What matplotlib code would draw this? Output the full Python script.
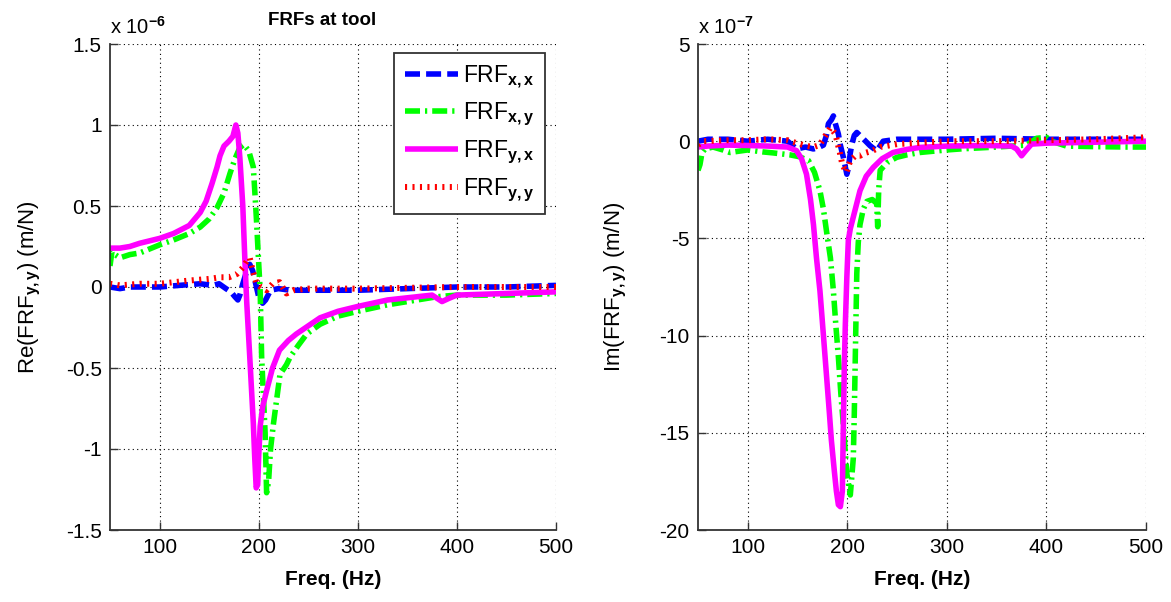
import matplotlib
matplotlib.use("Agg")
import matplotlib.pyplot as plt

plt.rcParams['font.family'] = ['Liberation Sans', 'DejaVu Sans']
plt.rcParams['mathtext.fontset'] = 'custom'
plt.rcParams['mathtext.rm'] = 'Liberation Sans'
plt.rcParams['mathtext.it'] = 'Liberation Sans:italic'
plt.rcParams['mathtext.bf'] = 'Liberation Sans:bold'

# ---------------- data: real part (x 1e-6 m/N) ----------------
re_xx_f = [50, 60, 70, 80, 100, 120, 141, 154, 160, 167, 172, 176, 179, 181, 184, 188, 191, 194, 197, 200, 204, 207, 212, 220, 232, 255, 280, 300, 350, 400, 450, 500]
re_xx_v = [0.0, -0.01, 0.0, 0.0, 0.0, 0.01, 0.02, 0.01, 0.02, -0.01, -0.03, -0.06, -0.08, -0.05, 0.02, 0.10, 0.14, 0.10, 0.02, -0.06, -0.10, -0.08, -0.02, -0.01, -0.02, -0.02, -0.02, -0.02, -0.01, 0.0, 0.0, 0.01]

re_xy_f = [50, 52, 55, 60, 70, 80, 100, 114, 130, 141, 150, 158, 165, 171, 176, 181, 185, 190, 194.6, 196.5, 198, 200, 201.5, 203, 205, 206.5, 208, 210, 212, 215, 221.5, 228, 232, 240, 248.5, 262, 280, 300, 330, 360, 380, 400, 450, 500]
re_xy_v = [0.13, 0.22, 0.20, 0.18, 0.20, 0.21, 0.26, 0.29, 0.33, 0.37, 0.42, 0.49, 0.58, 0.70, 0.79, 0.86, 0.88, 0.84, 0.74, 0.55, 0.39, 0.15, -0.02, -0.43, -0.70, -0.90, -1.27, -1.20, -1.00, -0.84, -0.54, -0.48, -0.43, -0.36, -0.29, -0.23, -0.18, -0.15, -0.11, -0.08, -0.06, -0.05, -0.05, -0.04]

re_yx_f = [50, 60, 70, 80, 100, 114, 130, 141, 147, 153, 158, 161, 165, 170, 174, 177, 179, 181, 184, 186, 188, 191, 194.6, 196, 197.5, 199, 200, 201.5, 204, 208, 214, 221, 230, 238, 250, 262, 280, 300, 330, 360, 375, 385, 392, 400, 450, 500]
re_yx_v = [0.24, 0.24, 0.25, 0.27, 0.30, 0.33, 0.38, 0.46, 0.53, 0.64, 0.74, 0.81, 0.87, 0.90, 0.93, 1.00, 0.95, 0.80, 0.50, 0.18, -0.10, -0.43, -0.84, -1.05, -1.24, -1.22, -1.05, -0.86, -0.74, -0.64, -0.50, -0.39, -0.33, -0.29, -0.24, -0.19, -0.15, -0.12, -0.08, -0.06, -0.05, -0.09, -0.07, -0.05, -0.04, -0.03]

re_yy_f = [50, 60, 80, 100, 130, 150, 161, 170, 178, 184, 188, 191, 194, 198, 202, 208, 214, 221, 228, 235, 250, 300, 400, 500]
re_yy_v = [0.02, 0.01, 0.02, 0.02, 0.04, 0.05, 0.06, 0.06, 0.08, 0.12, 0.16, 0.18, 0.10, 0.02, 0.0, -0.02, 0.02, 0.03, -0.04, -0.02, -0.01, -0.01, 0.0, 0.0]

# ---------------- data: imaginary part (x 1e-7 m/N) ----------------
im_xx_f = [50, 60, 80, 100, 120, 140, 149, 158, 166, 172, 176, 179, 181, 184, 186, 188, 191, 193, 196, 199.5, 201, 203, 204.6, 207, 209.5, 214.5, 222.8, 229.5, 236, 250, 300, 350, 400, 450, 500]
im_xx_v = [0.0, 0.1, 0.1, 0.0, 0.1, 0.0, -0.4, -0.3, -0.4, -0.3, -0.2, 0.3, 0.9, 1.1, 1.3, 0.9, 0.37, -0.2, -0.83, -1.7, -1.4, -0.6, -0.15, 0.3, 0.45, 0.2, -0.23, -0.5, 0.0, 0.1, 0.1, 0.15, 0.1, 0.1, 0.1]

im_xy_f = [50, 52, 54, 57, 65, 75, 82, 100, 115, 125, 142, 152, 161, 167, 172.5, 176, 179, 183, 186, 188.5, 191, 193.5, 196, 199.5, 203, 206, 207, 208, 209.5, 211, 212.7, 216, 219.5, 225, 229.5, 230.5, 231.5, 233, 240, 249.6, 260, 273, 300, 316, 350, 380, 390, 400, 405, 420, 450, 480, 500]
im_xy_v = [-1.5, -1.2, -0.6, -0.4, -0.3, -0.45, -0.58, -0.45, -0.55, -0.6, -0.7, -0.8, -1.0, -1.6, -2.55, -3.5, -4.6, -6.0, -7.7, -9.5, -11.1, -13.0, -14.6, -17.1, -18.2, -16.3, -14.0, -11.1, -6.8, -5.2, -4.3, -3.5, -3.1, -3.0, -3.2, -4.4, -2.5, -1.5, -1.1, -0.83, -0.7, -0.58, -0.45, -0.39, -0.3, -0.2, 0.15, 0.2, 0.0, -0.25, -0.28, -0.3, -0.3]

im_yx_f = [50, 60, 80, 100, 120, 140, 149, 154, 159, 163, 166, 169, 172.5, 176, 179, 182, 184, 187, 189, 191, 193, 195, 196, 197, 198, 199.5, 201, 203, 206, 212.7, 219, 226, 235, 246, 260, 273, 300, 340, 365, 370, 375, 379, 385, 400, 450, 500]
im_yx_v = [-0.3, -0.25, -0.2, -0.22, -0.25, -0.3, -0.49, -0.9, -1.7, -3.0, -4.3, -6.0, -7.7, -10.0, -12.0, -14.0, -15.4, -17.0, -18.0, -18.7, -18.8, -18.0, -14.6, -11.5, -9.4, -7.0, -5.1, -4.5, -3.9, -2.55, -1.8, -1.35, -0.9, -0.58, -0.42, -0.32, -0.25, -0.22, -0.25, -0.4, -0.75, -0.5, -0.15, -0.1, -0.05, 0.0]

im_yy_f = [50, 55, 80, 100, 120, 140, 149, 160, 166, 172, 177, 183, 188, 192.5, 195, 199, 203, 208, 212.7, 218, 225, 233, 250, 300, 350, 400, 450, 500]
im_yy_v = [-0.2, 0.0, 0.05, 0.05, 0.1, 0.05, -0.1, -0.25, -0.3, -0.2, 0.2, 0.7, 0.37, -0.6, -1.2, -1.6, -1.0, -0.75, -0.75, -0.6, -0.5, -0.3, -0.15, 0.0, 0.0, 0.05, 0.1, 0.2]

x_ticks = [100, 200, 300, 400, 500]
re_ticks = [-1.5, -1, -0.5, 0, 0.5, 1, 1.5]
re_ticklabels = ['-1.5', '-1', '-0.5', '0', '0.5', '1', '1.5']
im_ticks = [-20, -15, -10, -5, 0, 5]
im_ticklabels = ['-20', '-15', '-10', '-5', '0', '5']
legend_labels = [r'FRF$_{\mathbf{x,x}}$', r'FRF$_{\mathbf{x,y}}$',
                 r'FRF$_{\mathbf{y,x}}$', r'FRF$_{\mathbf{y,y}}$']

# ---------------- styles ----------------
LW = 4.0
styles = [
    dict(color='#0000ff', linestyle=(0, (2.7, 1.1)), lw=LW),
    dict(color='#00ff00', linestyle=(0, (2.7, 0.9, 0.4, 0.9)), lw=LW),
    dict(color='#ff00ff', linestyle='-', lw=LW),
    dict(color='#ff0000', linestyle=(0, (0.35, 0.9)), lw=4.3),
]

fig = plt.figure(figsize=(11.71, 6.02), dpi=100)
ax1 = fig.add_axes([110/1171, 72/602, 446/1171, 486/602])
ax2 = fig.add_axes([698/1171, 72/602, 448/1171, 486/602])

def style_axes(ax):
    for s in ['top', 'right']:
        ax.spines[s].set_visible(False)
    for s in ['left', 'bottom']:
        ax.spines[s].set_color('#333333')
        ax.spines[s].set_linewidth(1.3)
    ax.grid(True, color='black', linestyle=(0, (1, 3)), linewidth=0.8)
    ax.tick_params(direction='in', length=6, width=1.0, color='#333333',
                   labelsize=15, pad=6)
    ax.set_xlim(50, 500)
    ax.set_xticks(x_ticks)
    ax.set_xlabel('Freq. (Hz)', fontsize=15, fontweight='bold', labelpad=9)

series_re = [(re_xx_f, re_xx_v), (re_xy_f, re_xy_v), (re_yx_f, re_yx_v), (re_yy_f, re_yy_v)]
series_im = [(im_xx_f, im_xx_v), (im_xy_f, im_xy_v), (im_yx_f, im_yx_v), (im_yy_f, im_yy_v)]

lines = []
for (f, v), st, lab in zip(series_re, styles, legend_labels):
    ln, = ax1.plot(f, v, label=lab, solid_capstyle='butt', dash_capstyle='butt', **st)
    lines.append(ln)
for (f, v), st in zip(series_im, styles):
    ax2.plot(f, v, solid_capstyle='butt', dash_capstyle='butt', **st)

style_axes(ax1)
style_axes(ax2)
ax1.set_ylim(-1.5, 1.5)
ax1.set_yticks(re_ticks)
ax1.set_yticklabels(re_ticklabels)
ax2.set_ylim(-20, 5)
ax2.set_yticks(im_ticks)
ax2.set_yticklabels(im_ticklabels)

ax1.set_ylabel(r'Re(FRF$_{\mathbf{y,y}}$) (m/N)', fontsize=16)
ax2.set_ylabel(r'Im(FRF$_{\mathbf{y,y}}$) (m/N)', fontsize=16)
ax1.yaxis.set_label_coords(-0.15, 0.5)
ax2.yaxis.set_label_coords(-0.155, 0.5)

ax1.set_title('FRFs at tool', fontsize=13.5, fontweight='bold', pad=14, x=0.475)

ax1.text(0.0, 1.013, r'x 10$^{\mathbf{-6}}$', transform=ax1.transAxes,
         fontsize=14.5, ha='left', va='bottom')
ax2.text(0.0, 1.013, r'x 10$^{\mathbf{-7}}$', transform=ax2.transAxes,
         fontsize=14.5, ha='left', va='bottom')

leg = ax1.legend(handles=lines, loc='upper right', bbox_to_anchor=(0.975, 0.981),
                 borderaxespad=0, fontsize=16.5, handlelength=2.35, handletextpad=0.2,
                 labelspacing=0.45, borderpad=0.45, fancybox=False, framealpha=1)
leg.get_frame().set_edgecolor('#333333')
leg.get_frame().set_linewidth(1.3)

fig.savefig('out.png', dpi=100)
